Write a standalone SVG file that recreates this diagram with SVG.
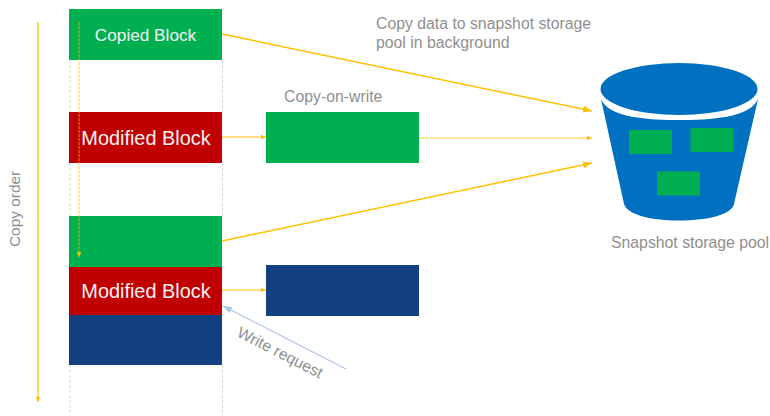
<svg xmlns="http://www.w3.org/2000/svg" width="770" height="416" viewBox="0 0 770 416">
<style>
text{font-family:"Liberation Sans",Arial,sans-serif}
.lbl{fill:#8f8f8f;font-size:15.800px}
.wht{fill:#f4f1f4;text-anchor:middle}
.guide{stroke:#d9d9d9;stroke-width:1;stroke-dasharray:3 2;fill:none}
.conn{stroke:#ffc000;fill:none}
.g{fill:#00b050}.r{fill:#c00000}.b{fill:#134080}
</style>
<defs>
<marker id="a" markerUnits="userSpaceOnUse" markerWidth="6" markerHeight="6" refX="5.500" refY="3" orient="auto"><path d="M0 .5L5.500 3L0 5.500Z" fill="#ffc000"/></marker>
<marker id="al" markerUnits="userSpaceOnUse" markerWidth="10" markerHeight="8" refX="9" refY="4" orient="auto"><path d="M0 .5L9 4L0 7.500Z" fill="#ffc000"/></marker>
<marker id="ab" markerUnits="userSpaceOnUse" markerWidth="10" markerHeight="8" refX="9" refY="4" orient="auto"><path d="M0 .5L9 4L0 7.500Z" fill="#a9c6e8"/></marker>
</defs>
<g id="guides">
<path class="guide" d="M70 60V112M70 163V216M70 365V416M222.500 60V112M222.500 163V216M222.500 365V416"/>
</g>
<g id="copied-block"><rect class="g" x="69" y="9" width="153" height="51"/><text class="wht" x="145.500" y="41" font-size="17.200">Copied Block</text></g>
<g id="modified-block-1"><rect class="r" x="69" y="112" width="153" height="51"/><text class="wht" x="146" y="145" font-size="19.900">Modified Block</text></g>
<g id="cow-block"><rect class="g" x="266" y="112" width="153" height="51"/></g>
<g id="green-block"><rect class="g" x="69" y="216" width="153" height="51"/></g>
<g id="modified-block-2"><rect class="r" x="69" y="267" width="153" height="48"/><text class="wht" x="146" y="298" font-size="19.900">Modified Block</text></g>
<g id="blue-block"><rect class="b" x="69" y="315" width="153" height="50"/></g>
<g id="new-block"><rect class="b" x="266" y="265" width="153" height="51"/></g>
<g id="pool">
<path d="M601 99C608 118 650 120 679 120C710 120 750 118 758 99L734 204C732 214 710 220.500 679 220.500C648 220.500 627 214 624 204Z" fill="#0070c0"/>
<ellipse cx="679" cy="89" rx="78.500" ry="26" fill="#0070c0"/>
<rect class="g" x="629" y="130" width="43" height="24"/>
<rect class="g" x="690.500" y="128" width="43" height="24"/>
<rect class="g" x="657" y="171.500" width="43" height="24"/>
<text class="lbl" x="611" y="248">Snapshot storage pool</text>
</g>
<g id="connectors">
<path class="conn" stroke-width="1.200" d="M38 22V402" marker-end="url(#a)"/>
<path class="conn" stroke-width="1" stroke-opacity=".75" stroke-dasharray="3 1" d="M79 22V257" marker-end="url(#a)"/>
<path class="conn" stroke-width="1.500" d="M222 34L592 111" marker-end="url(#al)"/>
<path class="conn" stroke-width="1.200" d="M222 137H266" marker-end="url(#a)"/>
<path class="conn" stroke-width="1" stroke-opacity=".8" d="M419 138H592" marker-end="url(#a)"/>
<path class="conn" stroke-width="1.500" d="M222 241L592 163" marker-end="url(#al)"/>
<path class="conn" stroke-width="1.200" d="M222 290H266" marker-end="url(#a)"/>
<path stroke="#a9c6e8" stroke-width="1.200" fill="none" d="M346 369L223 306" marker-end="url(#ab)"/>
</g>
<g id="labels">
<text class="lbl" x="376" y="29">Copy data to snapshot storage</text>
<text class="lbl" x="376" y="48">pool in background</text>
<text class="lbl" x="284" y="102">Copy-on-write</text>
<text class="lbl" transform="translate(20 247) rotate(-90)" style="font-size:15.400px">Copy order</text>
<text class="lbl" transform="translate(236 336) rotate(27)">Write request</text>
</g>
</svg>
